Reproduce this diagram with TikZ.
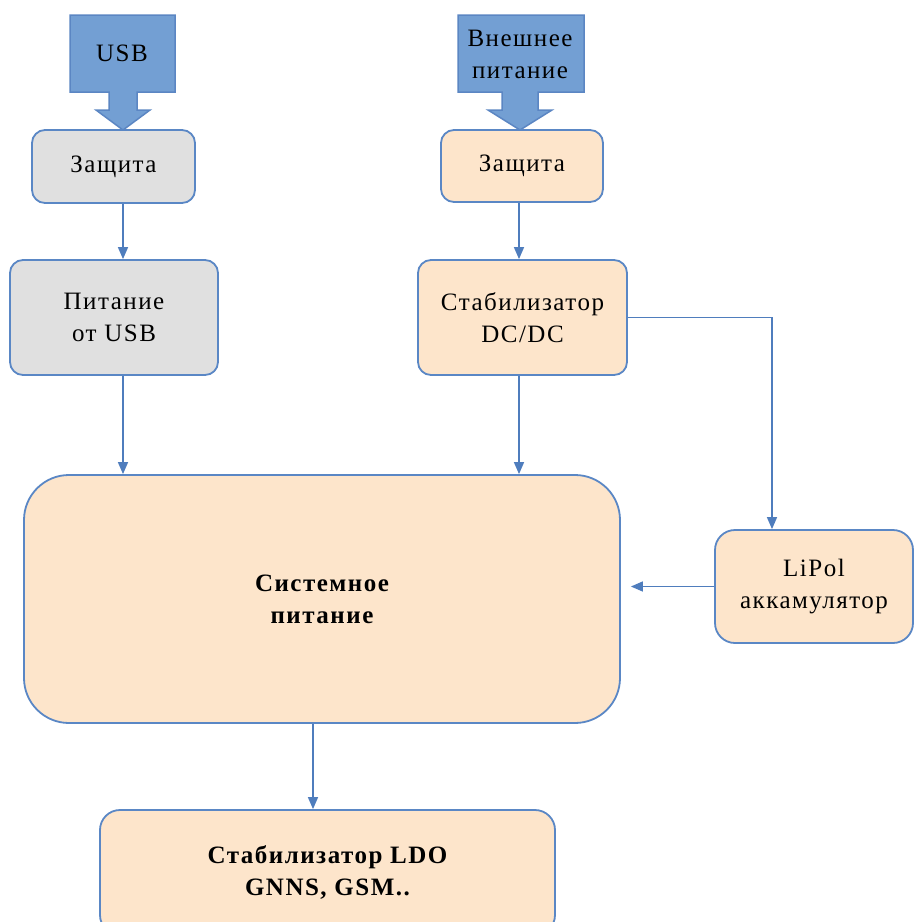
\documentclass[tikz,border=0pt]{standalone}
\usepackage{fontspec}
\setmainfont{Liberation Serif}[LetterSpace=6]
\usetikzlibrary{arrows.meta}
\definecolor{edge}{HTML}{5A87C5}
\definecolor{peach}{HTML}{FDE5CB}
\definecolor{grayf}{HTML}{E0E0E0}
\definecolor{bluef}{HTML}{739FD3}
\definecolor{blued}{HTML}{5B86C3}
\definecolor{linec}{HTML}{4F7DBD}
\begin{document}
\begin{tikzpicture}[x=1pt,y=-1pt,
  box/.style={draw=edge, line width=1.8pt, rounded corners=13pt, align=center,
    font=\fontsize{25}{32}\selectfont, inner sep=0pt},
  pbox/.style={box, fill=peach},
  gbox/.style={box, fill=grayf},
  conn/.style={draw=linec, line width=1.5pt, -{Triangle[length=12pt,width=10pt]}},
  barrow/.style={fill=bluef, draw=blued, line width=1.5pt},
  lbl/.style={font=\fontsize{25}{32}\selectfont, align=center, inner sep=0pt}
]
\useasboundingbox (0,0) rectangle (914,922);
\fill[white] (0,0) rectangle (914,922);

% block arrows
\draw[barrow] (70,15) -- (175,15) -- (175,92) -- (137,92) -- (137,110) -- (150,110)
  -- (123,130) -- (96,110) -- (109,110) -- (109,92) -- (70,92) -- cycle;
\node[lbl] (usb) at (122,53) {USB};
\draw[barrow] (458,15) -- (584,15) -- (584,92) -- (538,92) -- (538,110) -- (552,110)
  -- (520,130) -- (488,110) -- (502,110) -- (502,92) -- (458,92) -- cycle;
\node[lbl] (ext) at (520,54) {Внешнее\\питание};

% boxes
\node[gbox, minimum width=163, minimum height=73] (z1) at (113.5,166.5) {Защита};
\node[pbox, minimum width=162, minimum height=72] (z2) at (522,166) {Защита};
\node[gbox, minimum width=208, minimum height=115] (pu) at (114,317.5) {Питание\\от USB};
\node[pbox, minimum width=209, minimum height=115] (dc) at (522.5,317.5) {Стабилизатор\\DC/DC};
\node[pbox, rounded corners=45pt, minimum width=596, minimum height=248,
  font=\fontsize{25}{32}\selectfont\bfseries] (sys) at (322,599) {Системное\\питание};
\node[pbox, rounded corners=20pt, minimum width=198, minimum height=113] (li) at (814,586.5) {LiPol\\аккамулятор};
\node[pbox, rounded corners=20pt, minimum width=455, minimum height=125,
  font=\fontsize{25}{32}\selectfont\bfseries] (ldo) at (327.5,872.5) {Стабилизатор LDO\\GNNS, GSM..};

% connector guides
\coordinate (cL) at (123,0);
\coordinate (cR) at (519,0);
\coordinate (cM) at (313,0);
\coordinate (bend) at (772,317.5);

\draw[conn] (z1.south -| cL) -- (pu.north -| cL);
\draw[conn] (pu.south -| cL) -- (sys.north -| cL);
\draw[conn] (z2.south -| cR) -- (dc.north -| cR);
\draw[conn] (dc.south -| cR) -- (sys.north -| cR);
\draw[conn] (dc.east) -- (bend) -- (bend |- li.north);
\draw[conn, shorten >=10pt] (li.west) -- (li.west -| sys.east);
\draw[conn] (sys.south -| cM) -- (ldo.north -| cM);
\end{tikzpicture}
\end{document}
